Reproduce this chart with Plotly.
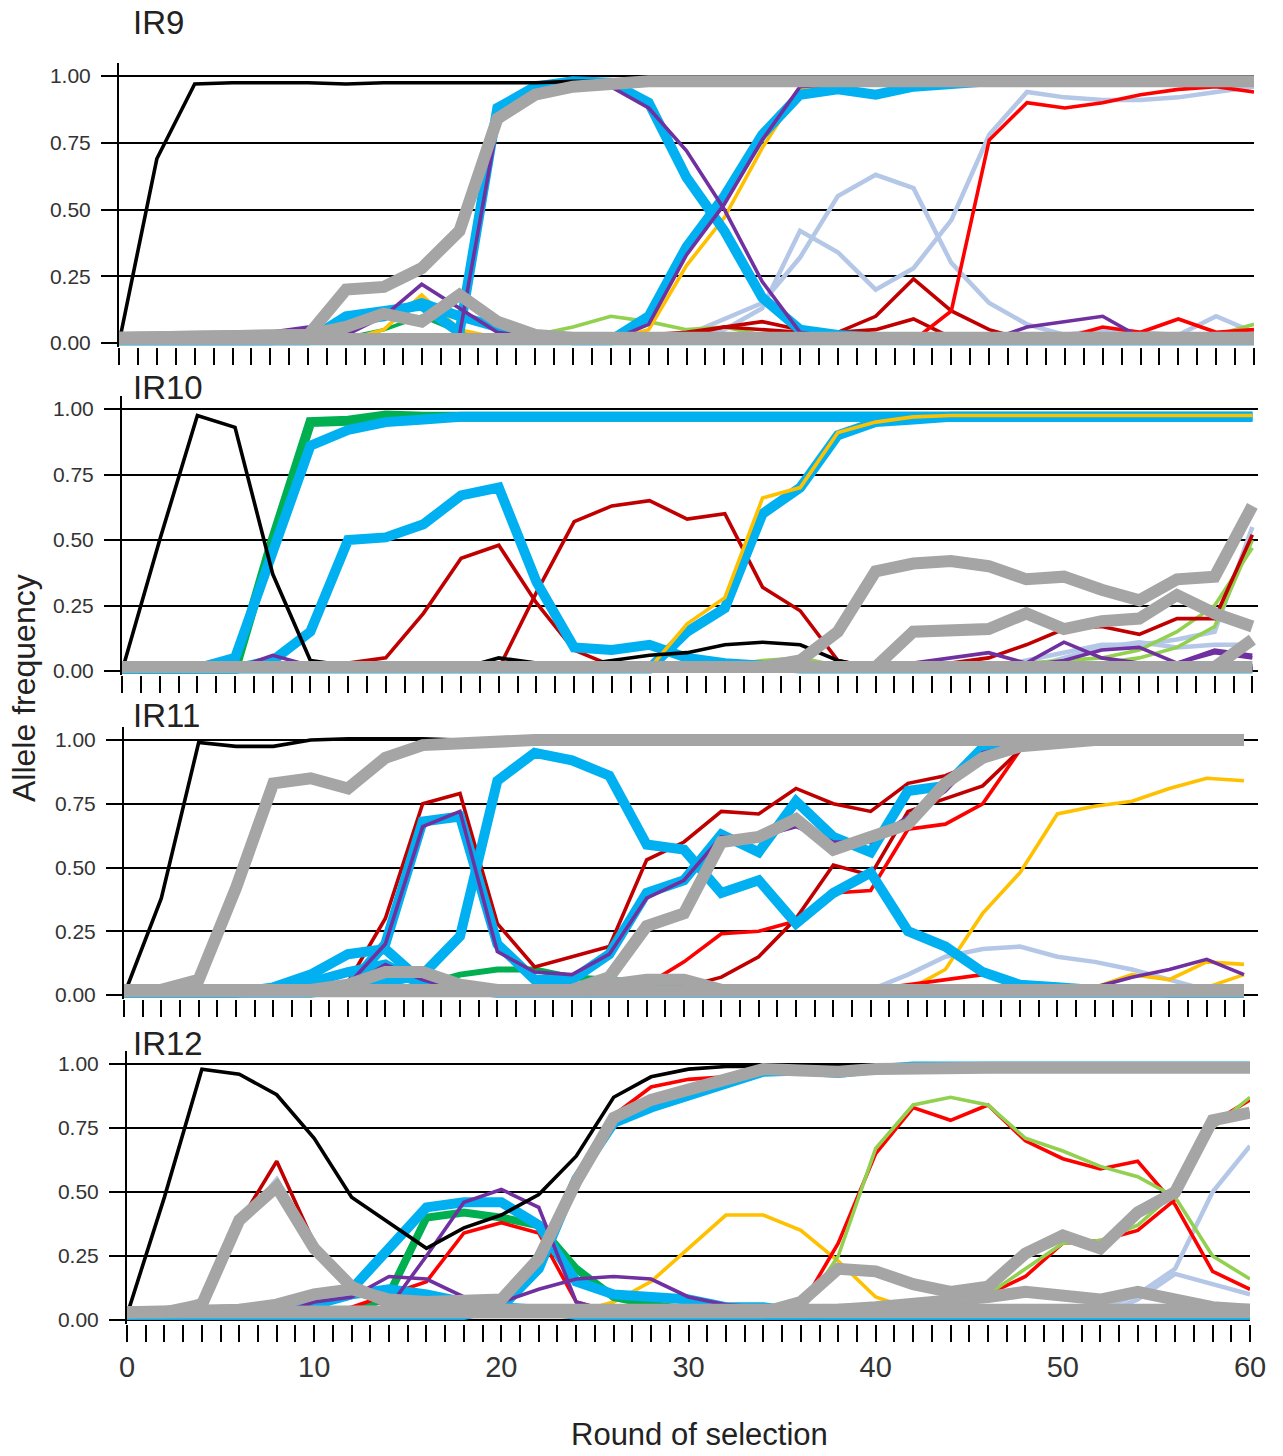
import plotly.graph_objects as go

ROUNDS = list(range(0, 61, 2))

# ---------------- IR9 ----------------
IR9_BLACK = [0, .69, .97, .975, .975, .975, .97, .975, .975, .975, .975, .975] + [.98] * 19
IR9_GRAY_A = [.02, .02, .02, .02, .02, .03, .2, .21, .28, .42, .84, .93, .96, .975] + [.98] * 17
IR9_GRAY_B = [.02] * 5 + [.03, .06, .11, .08, .18, .08, .03] + [.02] * 19
IR9_GRAY_C = [.015] * 31
IR9_LB_A = [.01] * 6 + [.1, .12, .14, .04, .88, .96, .98, .975, .9, .62, .42, .17, .05, .03, .02] + [.01] * 10
IR9_LB_B = [.01] * 14 + [.1, .36, .55, .78, .93, .95, .93, .96, .97] + [.98] * 8
IR9_LB_C = [.01] * 5 + [.02, .08, .1, .15, .1, .06, .03] + [.01] * 19
IR9_PURPLE_A = [.01, .01, .02, .04, .04, .06, .03, .1, .22, .13, .04, .02] + [.01] * 12 + [.06, .08, .1, .02, .01, .01, .01]
IR9_PURPLE_B = [.01] * 9 + [.03, .82, .94, .97, .96, .88, .72, .5, .23, .04, .02] + [.01] * 11
IR9_PURPLE_C = [.01] * 14 + [.07, .33, .52, .76, .96, .97] + [.98] * 11
IR9_ORANGE = [.01] * 7 + [.05, .18, .05, .02, .01, .01, .01, .05, .29, .47, .73, .95, .97] + [.98] * 11
IR9_LSB_A = [.01] * 15 + [.02, .05, .13, .42, .34, .2, .28, .46, .78, .94, .92, .91, .91, .92, .94, .96]
IR9_LSB_B = [.01] * 15 + [.03, .09, .15, .32, .55, .63, .58, .3, .15, .07, .03, .05, .04, .03, .1, .04]
IR9_RED_A = [.01] * 22 + [.12, .76, .9, .88, .9, .93, .95, .96, .94]
IR9_RED_B = [.01] * 24 + [.01, .02, .06, .04, .09, .04, .05]
IR9_DRED_A = [.01] * 13 + [.02, .03, .04, .06, .05, .04, .04, .1, .24, .12, .05, .01] + [.01] * 6
IR9_DRED_B = [.01] * 15 + [.03, .06, .08, .05, .04, .05, .09, .02] + [.01] * 8
IR9_LGREEN = [.01] * 11 + [.03, .06, .1, .08, .05, .06, .03, .02] + [.01] * 10 + [.03, .07]
IR9_DGREEN = [.01] * 6 + [.02, .05, .1, .04] + [.01] * 21

# ---------------- IR10 ----------------
IR10_BLACK = [0, .5, .975, .93, .37, .04, .02, .01, .01, .01, .05, .03, .02, .04, .06, .07, .1, .11, .1, .04] + [.01] * 11
IR10_DGREEN = [.01] * 4 + [.5, .95, .955, .975] + [.97] * 23
IR10_LB_A = [.01] * 3 + [.05, .46, .86, .92, .95, .96] + [.97] * 22
IR10_LB_B = [.01] * 4 + [.04, .15, .5, .51, .56, .67, .7, .34, .09, .08, .1, .05, .03, .02] + [.01] * 13
IR10_LB_C = [.01] * 14 + [.01, .15, .24, .6, .7, .9, .95, .96] + [.97] * 9
IR10_ORANGE = [.01] * 14 + [.01, .18, .28, .66, .7, .91, .95, .97] + [.975] * 9
IR10_DRED_A = [.01] * 6 + [.03, .05, .22, .43, .48, .26, .08, .02] + [.01] * 17
IR10_DRED_B = [.01] * 10 + [.01, .3, .57, .63, .65, .58, .6, .32, .23, .04] + [.01] * 11
IR10_DRED_C = [.01] * 22 + [.03, .05, .1, .16, .17, .14, .2, .2, .52]
IR10_GRAY_A = [.015] * 17 + [.015, .04, .15, .38, .41, .42, .4, .35, .36, .31, .27, .35, .36, .63]
IR10_GRAY_B = [.015] * 20 + [.015, .15, .16, .16, .22, .16, .19, .2, .29, .22, .17]
IR10_GRAY_C = [.015] * 29 + [.015, .12]
IR10_GRAY_D = [.015] * 31
IR10_LGREEN_A = [.01] * 16 + [.02, .04, .05, .02] + [.01] * 4 + [.03, .04, .05, .08, .15, .25, .47]
IR10_LGREEN_B = [.01] * 26 + [.03, .05, .09, .17, .5]
IR10_LSB_A = [.01] * 24 + [.04, .07, .1, .1, .12, .15, .55]
IR10_LSB_B = [.01] * 25 + [.05, .09, .11, .09, .1, .1]
IR10_PURPLE_A = [.01] * 4 + [.06, .02] + [.01] * 14 + [.01, .03, .05, .07, .03, .11, .05, .03, .03, .07, .05]
IR10_PURPLE_B = [.01] * 24 + [.02, .04, .08, .09, .03, .08, .06]
IR10_PURPLE_C = [.01] * 27 + [.02, .03, .03, .02]

# ---------------- IR11 ----------------
IR11_BLACK = [0, .38, .99, .975, .975, 1.0, 1.005, 1.005, 1.005] + [1.0] * 22
IR11_GRAY_A = [.02, .02, .06, .42, .83, .85, .81, .93, .98, .99] + [1.0] * 21
IR11_GRAY_B = [.02] * 6 + [.04, .09, .09, .04, .02, .02, .02, .04, .06, .06, .02] + [.02] * 14
IR11_GRAY_C = [.02] * 12 + [.02, .07, .27, .32, .6, .62, .69, .57, .62, .67, .83, .93, .975, .99] + [1.0] * 5
IR11_GRAY_D = [.015] * 31
IR11_LB_A = [.01] * 6 + [.03, .2, .68, .7, .2, .06, .06, .16, .4, .45, .63, .56, .76, .62, .56, .8, .82, .97, .99] + [1.0] * 6
IR11_LB_B = [.01] * 6 + [.02, .05, .08, .23, .84, .95, .92, .86, .59, .57, .4, .45, .28, .4, .48, .25, .19, .09, .04, .03, .02, .02] + [.01] * 3
IR11_LB_C = [.01] * 3 + [.01, .03, .08, .16, .18, .05, .02] + [.01] * 21
IR11_LB_D = [.01] * 4 + [.02, .05, .09, .12, .04, .02] + [.01] * 21
IR11_DRED_A = [.01] * 6 + [.05, .3, .75, .79, .28, .11, .15, .19, .53, .6, .72, .71, .81, .75, .72, .83, .86, .92, .98, .99] + [1.0] * 5
IR11_DRED_B = [.01] * 15 + [.03, .07, .15, .3, .51, .47, .72, .77, .82, .96, .99] + [1.0] * 5
IR11_RED_A = [.01] * 14 + [.04, .13, .24, .25, .29, .4, .41, .65, .67, .75, .96, .99] + [1.0] * 5
IR11_RED_B = [.01] * 20 + [.02, .04, .06, .08, .03] + [.01] * 6
IR11_PURPLE_A = [.01] * 6 + [.04, .2, .66, .72, .17, .09, .08, .16, .38, .45, .62, .62, .66, .6, .6, .7, .8, .95, .98, .99] + [1.0] * 5
IR11_PURPLE_B = [.01] * 6 + [.03, .12, .06, .02] + [.01] * 15 + [.02, .03, .07, .1, .14, .08]
IR11_ORANGE_A = [.01] * 21 + [.02, .1, .32, .48, .71, .74, .76, .81, .85, .84]
IR11_ORANGE_B = [.01] * 26 + [.03, .08, .06, .13, .12]
IR11_ORANGE_C = [.01] * 28 + [.01, .03, .08]
IR11_LSB = [.01] * 20 + [.02, .08, .15, .18, .19, .15, .13, .1, .06, .02, .02]
IR11_DGREEN = [.01] * 7 + [.02, .04, .08, .1, .1, .07, .06, .05, .04, .02] + [.01] * 14

# ---------------- IR12 ----------------
IR12_BLACK = [.02, .48, .98, .96, .88, .71, .48, .38, .28, .36, .41, .49, .64, .87, .95, .98, .99] + [.99] * 14
IR12_GRAY_A = [.03, .03, .06, .39, .52, .28, .13, .07, .05, .04] + [.04] * 21
IR12_GRAY_B = [.03, .03, .04, .04, .06, .1, .12, .08, .07, .07, .08, .24, .54, .79, .86, .9, .94, .98, .975, .97, .98, .985] + [.985] * 9
IR12_GRAY_C = [.03] * 18 + [.07, .2, .19, .14, .11, .13, .26, .33, .28, .42, .5, .78, .81]
IR12_GRAY_D = [.03] * 19 + [.04, .05, .06, .07, .09, .11, .1, .08, .11, .08, .05, .04]
IR12_GRAY_E = [.03] * 31
IR12_LB_A = [.02] * 5 + [.05, .12, .28, .44, .46, .46, .37, .15, .1, .09, .08, .05, .05, .03] + [.02] * 12
IR12_LB_B = [.02] * 10 + [.05, .2, .55, .77, .83, .88, .93, .97, .975, .965, .98, .99] + [.99] * 9
IR12_LB_C = [.02] * 5 + [.06, .1, .12, .1, .07, .05, .04] + [.02] * 19
IR12_DGREEN = [.02] * 7 + [.1, .4, .42, .4, .37, .2, .09, .06, .04] + [.02] * 15
IR12_DRED = [.02] * 3 + [.38, .62, .3, .12, .05, .03] + [.02] * 22
IR12_RED_A = [.02] * 6 + [.05, .1, .15, .34, .38, .34, .07, .03] + [.02] * 17
IR12_RED_B = [.02] * 10 + [.05, .2, .55, .8, .91, .94, .95, .97, .97, .98] + [.99] * 11
IR12_RED_C = [.02] * 17 + [.03, .05, .3, .65, .83, .78, .84, .7, .63, .59, .62, .45, .19, .12]
IR12_RED_D = [.02] * 21 + [.03, .05, .1, .17, .3, .31, .35, .47, .77, .86]
IR12_LGREEN_A = [.02] * 17 + [.02, .03, .25, .67, .84, .87, .84, .71, .66, .6, .56, .48, .25, .16]
IR12_LGREEN_B = [.02] * 21 + [.03, .05, .1, .2, .3, .31, .37, .5, .75, .87]
IR12_ORANGE = [.02] * 12 + [.03, .07, .15, .28, .41, .41, .35, .23, .09, .04] + [.02] * 9
IR12_PURPLE_A = [.02] * 5 + [.07, .09, .17, .16, .09, .07, .12, .16, .17, .16, .09, .06, .05, .03] + [.02] * 12
IR12_PURPLE_B = [.02] * 7 + [.05, .25, .46, .51, .44, .07, .03] + [.02] * 17
IR12_LSB_A = [.03] * 2 + [.08, .37, .55, .28, .12, .1, .08, .06, .05] + [.03] * 20
IR12_LSB_B = [.02] * 25 + [.02, .04, .1, .2, .5, .68]
IR12_LSB_C = [.02] * 27 + [.08, .18, .14, .1]

PANEL_NAMES = ["IR9", "IR10", "IR11", "IR12"]
Y_TICKS = [0, 0.25, 0.5, 0.75, 1.0]
Y_TICK_TEXT = ["0.00", "0.25", "0.50", "0.75", "1.00"]
X_TICKS = list(range(0, 61))
X_TICK_TEXT = [str(v) if v % 10 == 0 else "" for v in X_TICKS]

# ---------------- styles ----------------
BLACK, RED, DRED = "#000000", "#FF0000", "#C00000"
LGREEN, DGREEN, ORANGE = "#92D050", "#00B050", "#FFC000"
LBLUE, LSB, PURPLE, GRAY = "#00B0F0", "#B4C7E7", "#7030A0", "#A5A5A5"

THIN, MID, THICK, GRAYW = 3.6, 4.5, 10, 12

panel_traces = [
    [  # IR9
        (IR9_LSB_A, LSB, MID), (IR9_LSB_B, LSB, MID),
        (IR9_LGREEN, LGREEN, THIN), (IR9_DGREEN, DGREEN, THIN),
        (IR9_DRED_A, DRED, THIN), (IR9_DRED_B, DRED, THIN),
        (IR9_RED_B, RED, THIN), (IR9_RED_A, RED, THIN),
        (IR9_ORANGE, ORANGE, THIN),
        (IR9_LB_C, LBLUE, THICK), (IR9_LB_A, LBLUE, THICK), (IR9_LB_B, LBLUE, THICK),
        (IR9_PURPLE_A, PURPLE, THIN), (IR9_PURPLE_B, PURPLE, THIN), (IR9_PURPLE_C, PURPLE, THIN),
        (IR9_BLACK, BLACK, THIN),
        (IR9_GRAY_C, GRAY, GRAYW), (IR9_GRAY_B, GRAY, GRAYW), (IR9_GRAY_A, GRAY, GRAYW),
    ],
    [  # IR10
        (IR10_LSB_A, LSB, MID), (IR10_LSB_B, LSB, MID),
        (IR10_LGREEN_A, LGREEN, THIN), (IR10_LGREEN_B, LGREEN, THIN),
        (IR10_DRED_A, DRED, THIN), (IR10_DRED_B, DRED, THIN), (IR10_DRED_C, DRED, THIN),
        (IR10_DGREEN, DGREEN, THICK),
        (IR10_LB_B, LBLUE, THICK), (IR10_LB_C, LBLUE, THICK), (IR10_LB_A, LBLUE, THICK),
        (IR10_ORANGE, ORANGE, THIN),
        (IR10_PURPLE_A, PURPLE, THIN), (IR10_PURPLE_B, PURPLE, THIN), (IR10_PURPLE_C, PURPLE, THIN),
        (IR10_BLACK, BLACK, THIN),
        (IR10_GRAY_D, GRAY, GRAYW), (IR10_GRAY_C, GRAY, GRAYW), (IR10_GRAY_B, GRAY, GRAYW), (IR10_GRAY_A, GRAY, GRAYW),
    ],
    [  # IR11
        (IR11_LSB, LSB, MID),
        (IR11_ORANGE_A, ORANGE, THIN), (IR11_ORANGE_B, ORANGE, THIN), (IR11_ORANGE_C, ORANGE, THIN),
        (IR11_DGREEN, DGREEN, 6),
        (IR11_RED_B, RED, THIN), (IR11_RED_A, RED, THIN),
        (IR11_DRED_B, DRED, THIN), (IR11_DRED_A, DRED, THIN),
        (IR11_LB_C, LBLUE, THICK), (IR11_LB_D, LBLUE, THICK), (IR11_LB_B, LBLUE, THICK), (IR11_LB_A, LBLUE, THICK),
        (IR11_PURPLE_B, PURPLE, THIN), (IR11_PURPLE_A, PURPLE, THIN),
        (IR11_BLACK, BLACK, THIN),
        (IR11_GRAY_D, GRAY, GRAYW), (IR11_GRAY_B, GRAY, GRAYW), (IR11_GRAY_C, GRAY, GRAYW), (IR11_GRAY_A, GRAY, GRAYW),
    ],
    [  # IR12
        (IR12_LSB_A, LSB, MID), (IR12_LSB_B, LSB, MID), (IR12_LSB_C, LSB, MID),
        (IR12_ORANGE, ORANGE, THIN),
        (IR12_DGREEN, DGREEN, 8),
        (IR12_DRED, DRED, THIN),
        (IR12_RED_A, RED, THIN), (IR12_RED_B, RED, THIN), (IR12_RED_C, RED, THIN), (IR12_RED_D, RED, THIN),
        (IR12_LGREEN_A, LGREEN, THIN), (IR12_LGREEN_B, LGREEN, THIN),
        (IR12_LB_C, LBLUE, THICK), (IR12_LB_A, LBLUE, THICK), (IR12_LB_B, LBLUE, THICK),
        (IR12_PURPLE_A, PURPLE, THIN), (IR12_PURPLE_B, PURPLE, THIN),
        (IR12_BLACK, BLACK, THIN),
        (IR12_GRAY_E, GRAY, GRAYW), (IR12_GRAY_D, GRAY, GRAYW), (IR12_GRAY_A, GRAY, GRAYW),
        (IR12_GRAY_C, GRAY, GRAYW), (IR12_GRAY_B, GRAY, GRAYW),
    ],
]

# ---------------- geometry (pixels) ----------------
W, H = 1283, 1456
# zero-line pixel, pixels per unit, left/right pixel of plot area, x-range end
GEOM = [
    dict(p0=343, s=267, xl=119, xr=1254, xmax=60.0, title_y=23),
    dict(p0=671, s=262, xl=122, xr=1258, xmax=60.3, title_y=388),
    dict(p0=995, s=255, xl=124, xr=1258, xmax=60.75, title_y=715),
    dict(p0=1320, s=256, xl=127, xr=1250, xmax=60.0, title_y=1043),
]
YMIN, YMAX = -0.015, 1.05
FONT = "Liberation Sans, Arial, sans-serif"
TXT = "#333333"

fig = go.Figure()
layout = dict(
    width=W, height=H, margin=dict(l=0, r=0, t=0, b=0, pad=0),
    plot_bgcolor="white", paper_bgcolor="white", showlegend=False,
    font=dict(family=FONT, color=TXT),
)
annotations = []

for k, (g, traces, name) in enumerate(zip(GEOM, panel_traces, PANEL_NAMES), start=1):
    xa = "x" if k == 1 else f"x{k}"
    ya = "y" if k == 1 else f"y{k}"
    for vals, color, width in traces:
        fig.add_trace(go.Scatter(
            x=ROUNDS, y=vals, mode="lines", xaxis=xa, yaxis=ya,
            line=dict(color=color, width=width), hoverinfo="skip",
        ))
    bottom_px = g["p0"] - YMIN * g["s"]
    top_px = g["p0"] - YMAX * g["s"]
    last = (k == 4)
    layout["xaxis" if k == 1 else f"xaxis{k}"] = dict(
        domain=[g["xl"] / W, g["xr"] / W], range=[0, g["xmax"]], anchor=ya,
        tickmode="array", tickvals=X_TICKS, ticktext=X_TICK_TEXT,
        ticks="outside", ticklen=17, tickwidth=2, tickcolor="black",
        showticklabels=last, tickfont=dict(size=29, color=TXT, family=FONT),
        ticklabelstandoff=0, automargin=False,
        showgrid=False, zeroline=False, showline=False,
    )
    layout["yaxis" if k == 1 else f"yaxis{k}"] = dict(
        domain=[1 - bottom_px / H, 1 - top_px / H], range=[YMIN, YMAX], anchor=xa,
        tickmode="array", tickvals=Y_TICKS, ticktext=Y_TICK_TEXT,
        ticks="outside", ticklen=16, tickwidth=2, tickcolor="black",
        tickfont=dict(size=21, color=TXT, family=FONT), ticklabelstandoff=6,
        automargin=False,
        showgrid=True, gridcolor="black", gridwidth=2,
        showline=True, linecolor="black", linewidth=2, zeroline=False,
    )
    annotations.append(dict(
        text=name, x=131 / W, y=1 - g["title_y"] / H, xref="paper", yref="paper",
        xanchor="left", yanchor="middle", showarrow=False,
        font=dict(size=33, color="#222222", family=FONT),
    ))

annotations.append(dict(
    text="Allele frequency", x=24 / W, y=1 - 688 / H, xref="paper", yref="paper",
    xanchor="center", yanchor="middle", showarrow=False, textangle=-90,
    font=dict(size=32, color="#222222", family=FONT),
))
annotations.append(dict(
    text="Round of selection", x=700 / W, y=1 - 1434 / H, xref="paper", yref="paper",
    xanchor="center", yanchor="middle", showarrow=False,
    font=dict(size=31, color="#222222", family=FONT),
))
layout["annotations"] = annotations
fig.update_layout(**layout)
fig.write_html("out.html")
